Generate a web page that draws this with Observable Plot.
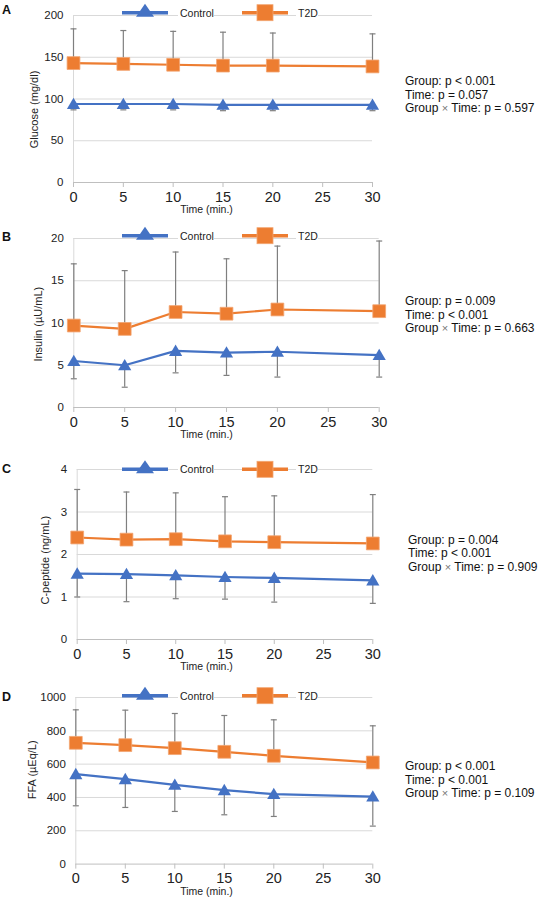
<!DOCTYPE html>
<html><head><meta charset="utf-8">
<script src="https://cdn.jsdelivr.net/npm/d3@7"></script>
<script src="https://cdn.jsdelivr.net/npm/@observablehq/plot@0.6"></script>
<style>
body{margin:0;background:#fff}
#wrap{position:relative;width:552px;height:900px;overflow:hidden;font-family:'Liberation Sans',Arial,sans-serif}
</style></head>
<body><div id="wrap"></div>
<script>
// ---- data ----
const times = [0, 5, 10, 15, 20, 30];
const xTicks = [0, 5, 10, 15, 20, 25, 30];
const seriesNames = ["Control", "T2D"];

const glucoseControl = [94, 94, 94, 93, 93, 93];
const glucoseControlLow = [87, 87, 87, 86, 86, 86];
const glucoseT2D = [143, 142, 141, 140, 140, 139];
const glucoseT2DHigh = [184, 182, 181, 180, 179, 178];

const insulinControl = [5.5, 5.0, 6.7, 6.5, 6.6, 6.2];
const insulinControlLow = [3.4, 2.4, 4.1, 3.8, 3.6, 3.6];
const insulinT2D = [9.7, 9.3, 11.3, 11.1, 11.6, 11.4];
const insulinT2DHigh = [17.0, 16.2, 18.4, 17.6, 19.1, 19.7];

const cpepControl = [1.55, 1.54, 1.51, 1.47, 1.45, 1.39];
const cpepControlLow = [1.0, 0.89, 0.96, 0.95, 0.88, 0.85];
const cpepT2D = [2.40, 2.35, 2.36, 2.31, 2.29, 2.26];
const cpepT2DHigh = [3.53, 3.47, 3.45, 3.36, 3.38, 3.41];

const ffaControl = [540, 510, 476, 444, 420, 405];
const ffaControlLow = [350, 340, 316, 296, 286, 228];
const ffaT2D = [728, 714, 696, 674, 650, 610];
const ffaT2DHigh = [926, 924, 904, 892, 866, 830];

const panelLetters = ["A", "B", "C", "D"];
const yLabels = ["Glucose (mg/dl)", "Insulin (\u00B5U/mL)", "C-peptide (ng/mL)", "FFA (\u00B5Eq/L)"];
const yTickSets = [[0, 50, 100, 150, 200], [0, 5, 10, 15, 20], [0, 1, 2, 3, 4], [0, 200, 400, 600, 800, 1000]];
const statsA = ["Group: p < 0.001", "Time: p = 0.057", "Group \u00D7 Time: p = 0.597"];
const statsB = ["Group: p = 0.009", "Time: p < 0.001", "Group \u00D7 Time: p = 0.663"];
const statsC = ["Group: p = 0.004", "Time: p < 0.001", "Group \u00D7 Time: p = 0.909"];
const statsD = ["Group: p < 0.001", "Time: p < 0.001", "Group \u00D7 Time: p = 0.109"];
const xLabel = "Time (min.)";

// ---- styling / layout ----
const BLUE = "#4472C4", ORANGE = "#ED7D31", GREY = "#7f7f7f";
const FONT = "'Liberation Sans', Arial, sans-serif";

const layouts = [
  {plotTop: 15, plotBottom: 182, left: 73, right: 372, titleX: 34, titleY: 109, letterY: 13.5, legendY: 12.7, statsX: 405, statsY: 85},
  {plotTop: 238.3, plotBottom: 407.3, left: 73.3, right: 378.7, titleX: 37.5, titleY: 324, letterY: 240.7, legendY: 235.7, statsX: 405, statsY: 305},
  {plotTop: 469.3, plotBottom: 639.3, left: 76.7, right: 372.3, titleX: 45, titleY: 560, letterY: 473.3, legendY: 469.3, statsX: 408, statsY: 543.5},
  {plotTop: 696.7, plotBottom: 863.3, left: 75.3, right: 372.3, titleX: 31.5, titleY: 769, letterY: 700.7, legendY: 695.7, statsX: 405, statsY: 770}
];

const panels = [
  {control: glucoseControl, controlLow: glucoseControlLow, t2d: glucoseT2D, t2dHigh: glucoseT2DHigh, stats: statsA},
  {control: insulinControl, controlLow: insulinControlLow, t2d: insulinT2D, t2dHigh: insulinT2DHigh, stats: statsB},
  {control: cpepControl, controlLow: cpepControlLow, t2d: cpepT2D, t2dHigh: cpepT2DHigh, stats: statsC},
  {control: ffaControl, controlLow: ffaControlLow, t2d: ffaT2D, t2dHigh: ffaT2DHigh, stats: statsD}
];

const triSym = {draw(ctx) { ctx.moveTo(0, -6.3); ctx.lineTo(6.6, 5); ctx.lineTo(-6.6, 5); ctx.closePath(); }};
const sqSym = {draw(ctx) { ctx.moveTo(-6.4, -6.4); ctx.lineTo(6.4, -6.4); ctx.lineTo(6.4, 6.4); ctx.lineTo(-6.4, 6.4); ctx.closePath(); }};
const capSym = {draw(ctx) { ctx.moveTo(-3, 0); ctx.lineTo(3, 0); }};

const wrap = document.getElementById("wrap");
const fmt = d => String(d);

panels.forEach((p, i) => {
  const L = layouts[i];
  const yTicks = yTickSets[i];
  const ctrl = times.map((t, k) => ({t, v: p.control[k], e: p.controlLow[k]}));
  const t2d = times.map((t, k) => ({t, v: p.t2d[k], e: p.t2dHigh[k]}));
  const plotH = L.plotBottom - L.plotTop;
  const mTop = 15, mBottom = 36;
  const mid = (L.plotTop + L.plotBottom) / 2;
  const chart = Plot.plot({
    width: 552,
    height: mTop + plotH + mBottom,
    marginTop: mTop,
    marginBottom: mBottom,
    marginLeft: L.left,
    marginRight: 552 - L.right,
    style: {fontFamily: FONT, fontSize: "11px", background: "transparent", color: "#222"},
    x: {domain: [0, 30], ticks: xTicks},
    y: {domain: [0, yTicks[yTicks.length - 1]], ticks: yTicks},
    marks: [
      Plot.gridY(yTicks.filter(d => d > 0), {stroke: "#d9d9d9", strokeOpacity: 1}),
      Plot.ruleX([0], {stroke: "#d9d9d9"}),
      Plot.ruleY([0], {stroke: "#bfbfbf"}),
      Plot.axisX({ticks: xTicks, tickFormat: fmt, tickSize: 5, tickPadding: 4, fontSize: 14.5, label: null, stroke: "#bfbfbf", fill: "#222"}),
      Plot.axisY({ticks: yTicks, tickFormat: fmt, tickSize: 0, tickPadding: 10, fontSize: 11.5, label: null, fill: "#222"}),
      // error bars
      Plot.ruleX(t2d, {x: "t", y1: "v", y2: "e", stroke: GREY, strokeWidth: 1.2}),
      Plot.dot(t2d, {x: "t", y: "e", symbol: capSym, fill: "none", stroke: GREY, strokeWidth: 1.2}),
      Plot.ruleX(ctrl, {x: "t", y1: "v", y2: "e", stroke: GREY, strokeWidth: 1.2}),
      Plot.dot(ctrl, {x: "t", y: "e", symbol: capSym, fill: "none", stroke: GREY, strokeWidth: 1.2}),
      // lines and markers
      Plot.line(ctrl, {x: "t", y: "v", stroke: BLUE, strokeWidth: 2.2}),
      Plot.dot(ctrl, {x: "t", y: "v", symbol: triSym, fill: BLUE, stroke: "none"}),
      Plot.line(t2d, {x: "t", y: "v", stroke: ORANGE, strokeWidth: 2.2}),
      Plot.dot(t2d, {x: "t", y: "v", symbol: sqSym, fill: ORANGE, stroke: "#f2a571", strokeWidth: 0.8}),
      // axis titles
      Plot.text([xLabel], {frameAnchor: "bottom", lineAnchor: "middle", textAnchor: "middle", dy: 27.5, dx: 206 - (L.left + L.right) / 2, fontSize: 10.5, fill: "#222"}),
      Plot.text([yLabels[i]], {frameAnchor: "left", rotate: -90, textAnchor: "middle", lineAnchor: "middle", dx: L.titleX - L.left, dy: L.titleY - mid, fontSize: 11, fill: "#222"})
    ]
  });
  chart.style.position = "absolute";
  chart.style.left = "0px";
  chart.style.top = (L.plotTop - mTop) + "px";
  wrap.appendChild(chart);
});

// overlay: panel letters, legends, stats
const ov = d3.select(wrap).append("svg")
  .attr("width", 552).attr("height", 900)
  .style("position", "absolute").style("left", "0px").style("top", "0px")
  .style("font-family", FONT);

layouts.forEach((L, i) => {
  ov.append("text").attr("x", 2).attr("y", L.letterY)
    .attr("font-size", 12.5).attr("font-weight", "bold").attr("fill", "#111").text(panelLetters[i]);
  const ly = L.legendY;
  const g = ov.append("g");
  // Control
  g.append("line").attr("x1", 122).attr("x2", 168).attr("y1", ly).attr("y2", ly).attr("stroke", BLUE).attr("stroke-width", 3.5);
  g.append("path").attr("d", `M145,${ly - 9}L154,${ly + 4}L136,${ly + 4}Z`).attr("fill", BLUE);
  g.append("rect").attr("x", 178).attr("y", ly - 5).attr("width", 36).attr("height", 11).attr("fill", "#fff");
  g.append("text").attr("x", 180).attr("y", ly + 4).attr("font-size", 10.5).attr("fill", "#222").text(seriesNames[0]);
  // T2D
  g.append("line").attr("x1", 242).attr("x2", 288).attr("y1", ly).attr("y2", ly).attr("stroke", ORANGE).attr("stroke-width", 3.5);
  g.append("rect").attr("x", 257).attr("y", ly - 8).attr("width", 16).attr("height", 16).attr("fill", ORANGE).attr("stroke", "#f2a571").attr("stroke-width", 0.8);
  g.append("rect").attr("x", 296).attr("y", ly - 5).attr("width", 22).attr("height", 11).attr("fill", "#fff");
  g.append("text").attr("x", 298).attr("y", ly + 4).attr("font-size", 10.5).attr("fill", "#222").text(seriesNames[1]);
  // stats
  panels[i].stats.forEach((s, k) => {
    const t = ov.append("text").attr("x", L.statsX).attr("y", L.statsY + k * 13.7)
      .attr("font-size", 12).attr("fill", "#111");
    if (s.includes("\u00D7")) {
      const parts = s.split("\u00D7");
      t.append("tspan").text(parts[0] + " ");
      t.append("tspan").attr("fill", "#777").attr("font-size", 11).text("\u00D7");
      t.append("tspan").text(" " + parts[1]);
    } else {
      t.text(s);
    }
  });
});
</script>
</body></html>
